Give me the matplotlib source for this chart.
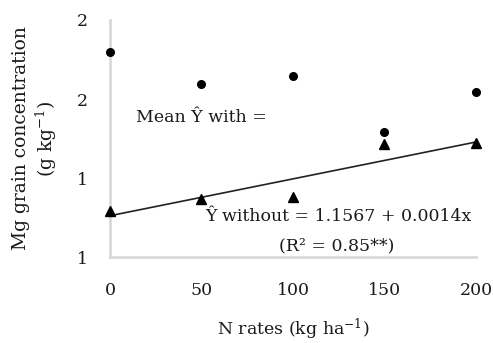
import matplotlib
matplotlib.use("Agg")
import matplotlib.pyplot as plt
from matplotlib.ticker import FormatStrFormatter, FixedLocator
import numpy as np

# Nitrogen rates (kg/ha)
n_rates = [0, 50, 100, 150, 200]
# Mg grain concentration with and without the treatment (g/kg)
mg_with = [1.777, 1.657, 1.686, 1.474, 1.625]
mg_without = [1.176, 1.220, 1.227, 1.430, 1.432]
# Fitted linear model for the "without" series
fit_intercept = 1.1567
fit_slope = 0.0014

y_ticks = [1.0, 1.3, 1.6, 1.9]
x_ticks = [0, 50, 100, 150, 200]

plt.rcParams['font.family'] = ['DejaVu Serif']
plt.rcParams['mathtext.fontset'] = 'dejavuserif'

TXT = '#1a1a1a'
FS = 12.5

fig = plt.figure(figsize=(4.93, 3.43), dpi=100)
ax = fig.add_axes([0.2231, 0.2507, 0.7424, 0.6910])

ax.plot(n_rates, mg_with, 'o', color='black', markersize=5.5, clip_on=False, zorder=3)
ax.plot(n_rates, mg_without, '^', color='black', markersize=6.5, clip_on=False, zorder=3)

xs = np.array([min(n_rates), max(n_rates)])
ax.plot(xs, fit_intercept + fit_slope * xs, color='#222222', linewidth=1.2, zorder=2)

ax.set_xlim(0, 200)
ax.set_ylim(1.0, 1.9)
ax.xaxis.set_major_locator(FixedLocator(x_ticks))
ax.yaxis.set_major_locator(FixedLocator(y_ticks))
ax.yaxis.set_major_formatter(FormatStrFormatter('%.0f'))
ax.tick_params(length=0, labelsize=FS, colors=TXT)
ax.tick_params(axis='y', pad=16)
ax.tick_params(axis='x', pad=18)

for side in ('top', 'right'):
    ax.spines[side].set_visible(False)
for side in ('left', 'bottom'):
    ax.spines[side].set_color('#d9d9d9')
    ax.spines[side].set_linewidth(2)

ax.set_xlabel('N rates (kg ha$^{-1}$)', fontsize=FS, color=TXT, labelpad=13)
ax.set_ylabel('Mg grain concentration\n(g kg$^{-1}$)', fontsize=13.5, color=TXT,
              labelpad=13, linespacing=1.2)

ax.text(14, 1.53, 'Mean Ŷ with =', fontsize=FS, color=TXT, va='center', ha='left')
ax.text(52, 1.152, 'Ŷ without = 1.1567 + 0.0014x', fontsize=FS, color=TXT,
        va='center', ha='left')
ax.text(124, 1.043, '(R² = 0.85**)', fontsize=FS, color=TXT, va='center', ha='center')

fig.savefig('out.png', dpi=100)
